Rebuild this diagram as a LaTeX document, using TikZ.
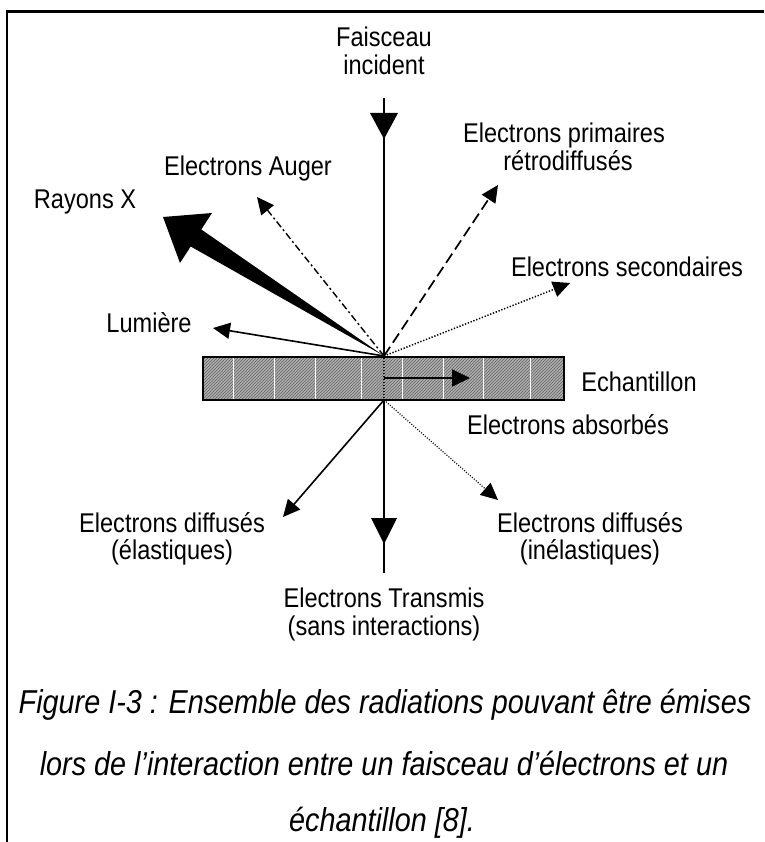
\documentclass[tikz,border=0pt]{standalone}
\usepackage{fontspec}
\setmainfont{Liberation Sans}[FakeStretch=0.87]
\usetikzlibrary{arrows.meta,patterns}
\begin{document}
\begin{tikzpicture}[x=1pt,y=-1pt,
  lbl/.style={inner sep=0pt, anchor=base, font=\fontsize{27.1}{30}\selectfont},
  capt/.style={inner sep=0pt, anchor=base, font=\fontsize{33.1}{38}\selectfont\itshape},
  ray/.style={line width=1.6pt, -{Triangle[length=17pt,width=16pt]}},
  bigtri/.style={fill=black},
  frame/.style={line width=2.8pt},
]
\useasboundingbox (0,0) rectangle (764,842);
% frame
\draw[frame] (7,842) -- (7,11.5) -- (764,11.5);

% key points
\coordinate (O) at (384,356);
\coordinate (B) at (384,400);

% labels
\node[lbl] (fa1) at (384,47) {Faisceau};
\node[lbl] (fa2) at (384,75) {incident};
\node[lbl] (prim1) at (564,143) {Electrons primaires};
\node[lbl] (prim2) at (568,171) {rétrodiffusés};
\node[lbl] (aug) at (248,176) {Electrons Auger};
\node[lbl] (rx) at (85,208) {Rayons X};
\node[lbl] (sec) at (627,276) {Electrons secondaires};
\node[lbl] (lum) at (149,332) {Lumière};
\node[lbl] (ech) at (639,391) {Echantillon};
\node[lbl] (abs) at (568,434) {Electrons absorbés};
\node[lbl] (el1) at (172,532) {Electrons diffusés};
\node[lbl] (el2) at (172,559) {(élastiques)};
\node[lbl] (in1) at (590,532) {Electrons diffusés};
\node[lbl] (in2) at (590,559) {(inélastiques)};
\node[lbl] (tr1) at (384,607) {Electrons Transmis};
\node[lbl] (tr2) at (384,635) {(sans interactions)};

% caption
\node[capt] (c1) at (385,713) {Figure I-3 : Ensemble des radiations pouvant être émises};
\node[capt] (c2) at (384,775) {lors de l’interaction entre un faisceau d’électrons et un};
\node[capt] (c3) at (382,831) {échantillon [8].};

% sample
\fill[black!32] (203,357) rectangle (564,400);
\fill[pattern=north east lines, pattern color=black!60] (203,357) rectangle (564,400);
\foreach \xx in {233,274,315,361,402,443,483,530}
  \draw[white, line width=0.9pt] (\xx,358) -- (\xx,399);
\draw[line width=2pt] (203,357) rectangle (564,400);
\node[inner sep=0pt, minimum size=0pt] (samp) at (384,378) {};
\coordinate (sampend) at (470,378);
\draw[line width=1.2pt, dash pattern=on 1pt off 2pt] (384,358) -- (384,399);
\draw[line width=1.8pt, -{Triangle[length=18pt,width=17pt]}] (samp.center) -- (sampend);

% incident beam
\coordinate (beamtop) at (384,98);
\draw[line width=1.8pt] (beamtop) -- (O);
\fill[bigtri] (370,113) -- (398,113) -- (384,139) -- cycle;

% upper rays
\coordinate (tAug) at (257,197);
\coordinate (tPrim) at (498,185);
\coordinate (tSec) at (570,283);
\coordinate (tLum) at (213,328);
\draw[ray, dash pattern=on 7pt off 3pt on 2pt off 3pt, line width=1.4pt] (O) -- (tAug);
\draw[ray, dash pattern=on 11pt off 5pt, line width=1.7pt] (O) -- (tPrim);
\draw[ray, dash pattern=on 1.3pt off 1.7pt, line width=1.5pt] (O) -- (tSec);
\draw[ray] (O) -- (tLum);

% X rays (thick tapered arrow)
\fill (O) -- (201.3,229.5) -- (212,213) -- (163,217) -- (180,263) -- (190.7,246.5) -- cycle;

% lower rays
\coordinate (tEl) at (283,517);
\coordinate (tIn) at (498,500);
\coordinate (trEnd) at (384,573);
\draw[ray] (B) -- (tEl);
\draw[ray, dash pattern=on 1pt off 1.6pt, line width=1.2pt] (B) -- (tIn);
\draw[line width=1.8pt] (B) -- (trEnd);
\fill[bigtri] (371,518) -- (397,518) -- (384,544) -- cycle;
\end{tikzpicture}
\end{document}
